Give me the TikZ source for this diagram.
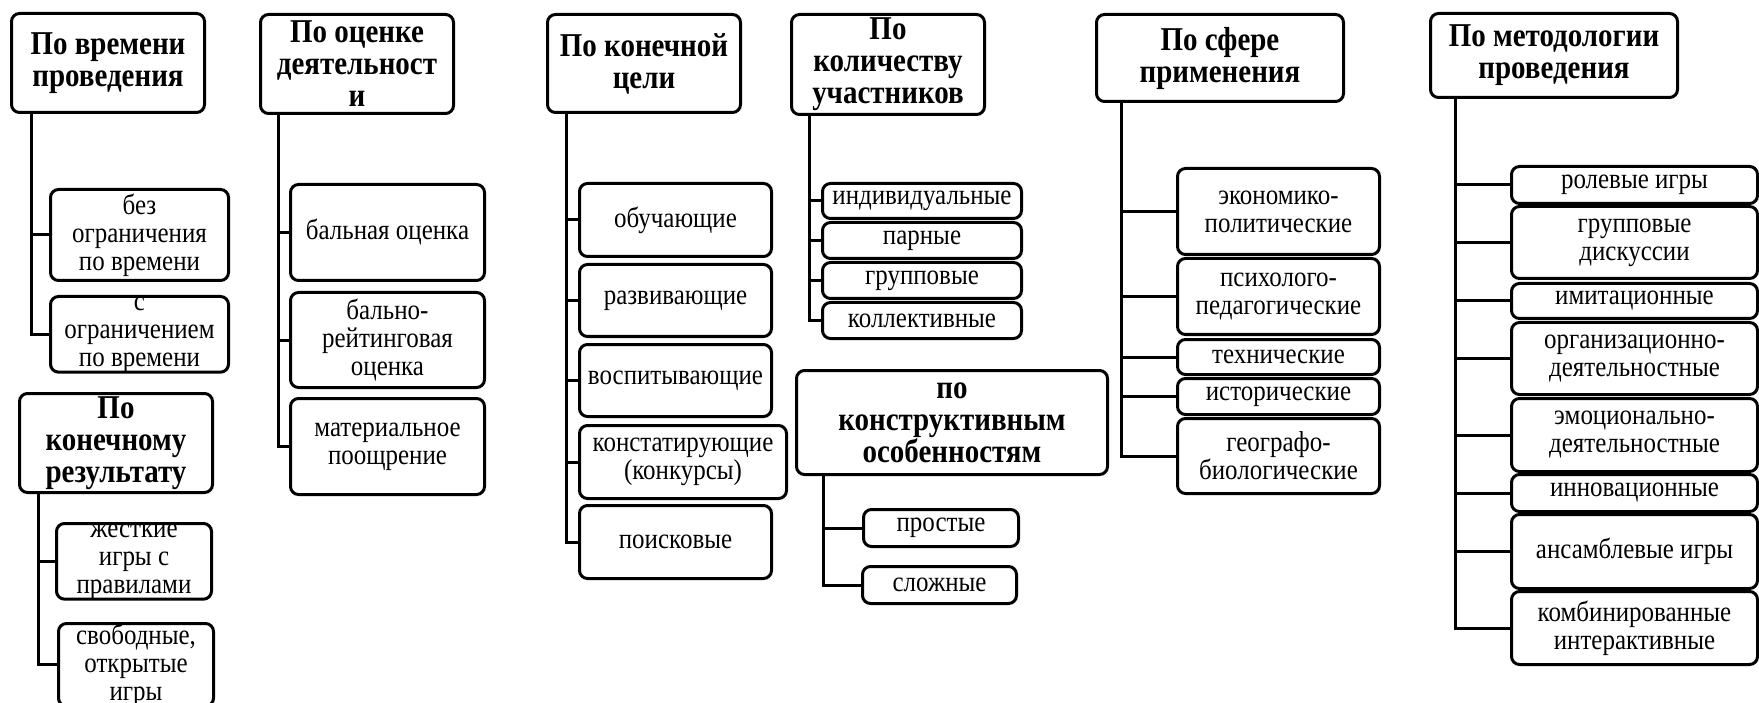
\documentclass[tikz,border=0pt]{standalone}
\usepackage{fontspec}
\setmainfont{Liberation Serif}[FakeStretch=0.87]
\usetikzlibrary{positioning}

\tikzset{
  box/.style={draw=black,rounded corners=8pt,line width=3pt,align=center,inner sep=0pt,anchor=north west,font=\fontsize{28.7}{28}\selectfont},
  head/.style={box,font=\fontsize{33.3}{32}\selectfont\bfseries},
  link/.style={draw=black,line width=3pt}
}

\begin{document}
\begin{tikzpicture}[x=1pt,y=-1pt,line cap=rect,line join=miter]
\path[use as bounding box] (0,0) rectangle (1759,703);
% headings
\node[head,minimum width=193pt,minimum height=99pt] (h1) at (10,12) {По времени\\проведения};
\node[head,minimum width=193pt,minimum height=99pt] (h2) at (259,13) {По оценке\\деятельност\\и};
\node[head,minimum width=193pt,minimum height=99pt] (h3) at (18,392) {По\\конечному\\результату};
\node[head,minimum width=193pt,minimum height=98pt] (h4) at (546,13) {По конечной\\цели};
\node[head,minimum width=193pt,minimum height=100pt] (h5) at (790,13) {По\\количеству\\участников};
\node[head,minimum width=311pt,minimum height=104pt] (h6) at (795,369) {по\\конструктивным\\особенностям};
\node[head,minimum width=247pt,minimum height=87pt] (h7) at (1095,13) {По сфере\\применения};
\node[head,minimum width=247pt,minimum height=84pt] (h8) at (1429,12) {По методологии\\проведения};
% subgroups
\node[box,minimum width=178pt,minimum height=91pt] (c11) at (49,188) {без\\ограничения\\по времени};
\node[box,minimum width=178pt,minimum height=75pt] (c12) at (49,295) {с\\ограничением\\по времени};
\node[box,minimum width=194pt,minimum height=96pt] (c21) at (289,183) {бальная оценка};
\node[box,minimum width=194pt,minimum height=95pt] (c22) at (289,291) {бально-\\рейтинговая\\оценка};
\node[box,minimum width=194pt,minimum height=96pt] (c23) at (289,397) {материальное\\поощрение};
\node[box,minimum width=155pt,minimum height=71pt] (c31) at (55,522) {жесткие\\игры с\\правилами};
\node[box,minimum width=155pt,minimum height=80pt] (c32) at (57,622) {свободные,\\открытые\\игры};
\node[box,minimum width=192pt,minimum height=73pt] (c41) at (578,182) {обучающие};
\node[box,minimum width=192pt,minimum height=72pt] (c42) at (578,263) {развивающие};
\node[box,minimum width=192pt,minimum height=72pt] (c43) at (578,343) {воспитывающие};
\node[box,minimum width=207pt,minimum height=73pt] (c44) at (578,424) {констатирующие\\(конкурсы)};
\node[box,minimum width=192pt,minimum height=73pt] (c45) at (578,504) {поисковые};
\node[box,minimum width=199pt,minimum height=35pt] (c51) at (821,182) {индивидуальные};
\node[box,minimum width=199pt,minimum height=36pt] (c52) at (821,221) {парные};
\node[box,minimum width=199pt,minimum height=36pt] (c53) at (821,261) {групповые};
\node[box,minimum width=199pt,minimum height=36pt] (c54) at (821,301) {коллективные};
\node[box,minimum width=155pt,minimum height=37pt] (c61) at (862,508) {простые};
\node[box,minimum width=154pt,minimum height=37pt] (c62) at (861,565) {сложные};
\node[box,minimum width=202pt,minimum height=86pt] (c71) at (1176,167) {экономико-\\политические};
\node[box,minimum width=202pt,minimum height=76pt] (c72) at (1176,257) {психолого-\\педагогические};
\node[box,minimum width=202pt,minimum height=35pt] (c73) at (1176,338) {технические};
\node[box,minimum width=202pt,minimum height=36pt] (c74) at (1176,377) {исторические};
\node[box,minimum width=202pt,minimum height=75pt] (c75) at (1176,417) {географо-\\биологические};
\node[box,minimum width=246pt,minimum height=37pt] (c81) at (1510,165) {ролевые игры};
\node[box,minimum width=246pt,minimum height=72pt] (c82) at (1510,205) {групповые\\дискуссии};
\node[box,minimum width=246pt,minimum height=35pt] (c83) at (1510,282) {имитационные};
\node[box,minimum width=246pt,minimum height=72pt] (c84) at (1510,321) {организационно-\\деятельностные};
\node[box,minimum width=246pt,minimum height=73pt] (c85) at (1510,397) {эмоционально-\\деятельностные};
\node[box,minimum width=246pt,minimum height=37pt] (c86) at (1510,473) {инновационные};
\node[box,minimum width=246pt,minimum height=74pt] (c87) at (1510,513) {ансамблевые игры};
\node[box,minimum width=246pt,minimum height=73pt] (c88) at (1510,590) {комбинированные\\интерактивные};
% trunks
\coordinate (t1) at ([xshift=21pt]h1.south west);
\coordinate (t2) at ([xshift=19pt]h2.south west);
\coordinate (t3) at ([xshift=20pt]h3.south west);
\coordinate (t4) at ([xshift=20pt]h4.south west);
\coordinate (t5) at ([xshift=19pt]h5.south west);
\coordinate (t6) at ([xshift=28pt]h6.south west);
\coordinate (t7) at ([xshift=26pt]h7.south west);
\coordinate (t8) at ([xshift=26pt]h8.south west);
\foreach \c in {c11,c12} \draw[link] (t1) |- (\c.west);
\foreach \c in {c21,c22,c23} \draw[link] (t2) |- (\c.west);
\foreach \c in {c31,c32} \draw[link] (t3) |- (\c.west);
\foreach \c in {c41,c42,c43,c44,c45} \draw[link] (t4) |- (\c.west);
\foreach \c in {c51,c52,c53,c54} \draw[link] (t5) |- (\c.west);
\foreach \c in {c61,c62} \draw[link] (t6) |- (\c.west);
\foreach \c in {c71,c72,c73,c74,c75} \draw[link] (t7) |- (\c.west);
\foreach \c in {c81,c82,c83,c84,c85,c86,c87,c88} \draw[link] (t8) |- (\c.west);
\end{tikzpicture}
\end{document}
